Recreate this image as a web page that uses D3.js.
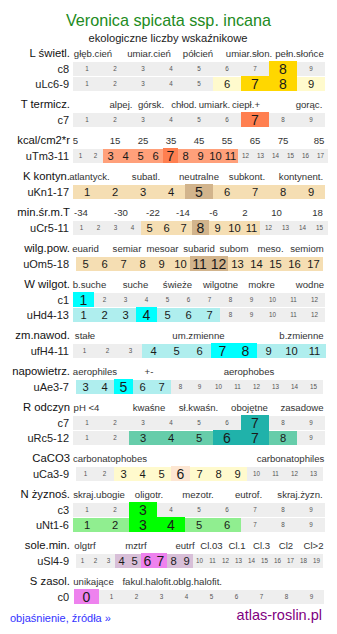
<!DOCTYPE html>
<html><head><meta charset="utf-8">
<script src="https://cdn.jsdelivr.net/npm/d3@7"></script>
<style>
body{margin:0;background:#fff}
svg{display:block}
text{font-family:"Liberation Sans",Arial,sans-serif}
</style>
</head><body><svg id="c" width="337" height="634"></svg>
<script>
// ---------- data ----------
const title = "Veronica spicata ssp. incana";
const subtitle = "ekologiczne liczby wskaźnikowe";
const footerLink = "objaśnienie, źródła »";
const footerSite = "atlas-roslin.pl";

const sectionNames = ["L świetl.","T termicz.","kcal/cm2*r","K kontyn.","min.śr.m.T","wilg.pow.","W wilgot.","zm.nawod.","napowietrz.","R odczyn","CaCO3","N żyznoś.","sole.min.","S zasol."];
const lightScale = ["głęb.cień","umiar.cień","półcień","umiar.słon.","pełn.słońce"];
const tempScale = ["alpej.","górsk.","chłod.","umiark.","ciepł.+","gorąc."];
const kcalScale = ["5","15","25","35","45","55","65","75","85"];
const contScale = ["atlantyck.","subatl.","neutralne","subkont.","kontynent."];
const minTScale = ["-34","-30","-22","-14","-6","2","10","18"];
const airHumScale = ["euarid","semiar","mesoar","subarid","subom","meso.","semiom"];
const moistScale = ["b.suche","suche","świeże","wilgotne","mokre","wodne"];
const waterVarScale = ["stałe","um.zmienne","b.zmienne"];
const aerationScale = ["aerophiles","+-","aerophobes"];
const reactionScale = ["pH <4","kwaśne","sł.kwaśn.","obojętne","zasadowe"];
const carbScale = ["carbonatophobes","carbonatophiles"];
const nutrScale = ["skraj.ubogie","oligotr.","mezotr.","eutrof.","skraj.żyzn."];
const saltMinScale = ["olgtrf","mztrf","eutrf","Cl.03","Cl.1","Cl.3","Cl2","Cl>2"];
const salinityScale = ["unikające","fakul.halofit.","oblg.halofit."];
const sectionScales = [lightScale,tempScale,kcalScale,contScale,minTScale,airHumScale,moistScale,waterVarScale,aerationScale,reactionScale,carbScale,nutrScale,saltMinScale,salinityScale];

const rowLabels  = ["c8","uLc6-9","c7","uTm3-11","uKn1-17","uCr5-11","uOm5-18","c1","uHd4-13","ufH4-11","uAe3-7","c7","uRc5-12","uCa3-9","c3","uNt1-6","uSl4-9","c0"];
const rowSection = [0,0,1,2,3,4,5,6,6,7,8,9,9,10,11,11,12,13];
const rowFirst   = [1,1,1,1,1,1,5,1,1,1,3,1,1,1,1,1,1,0];
const rowLast    = [9,9,9,17,9,15,17,12,12,11,15,9,9,13,9,9,19,9];
const rangeLo    = [8,6,7,3,1,5,5,1,1,4,3,7,3,3,3,1,4,0];
const rangeHi    = [8,9,7,11,9,11,17,1,7,11,7,7,8,9,3,6,9,0];
const peakLo     = [8,7,7,7,5,8,11,1,4,7,5,7,6,6,3,3,6,0];
const peakHi     = [8,8,7,7,5,8,12,1,4,8,5,7,7,6,3,4,7,0];

// ---------- layout / style ----------
const scaleLabelX = [
  [93,149,198,249,299.5],
  [121,151,184,214.5,246,309],
  [75.5,115,143,171,199,227,255,283,319],
  [89.5,146,199,247,301],
  [81,121,153,183,213.5,245,276.5,317.5],
  [85.5,127,162.5,199,234,270.5,307],
  [89.5,135.5,177.5,220.5,261.5,310],
  [85,198.5,301.5],
  [95,149,249],
  [86.5,149,198.5,249.5,302],
  [110,290.5],
  [99,149,198,248.5,300],
  [85,136,185,211.5,237,261.5,286,313.5],
  [93.5,148,197.5]
];
const palettes = [
  ["#fffacd","#ffd700"],["#ffa07a","#ff7f50"],["#ffa07a","#ff7f50"],
  ["#f5deb3","#d2b48c"],["#f5deb3","#d2b48c"],["#f5deb3","#d2b48c"],
  ["#afeeee","#00ffff"],["#afeeee","#00ffff"],["#afeeee","#00ffff"],
  ["#66cdaa","#20b2aa"],["#fffacd","#fde6d2"],["#90ee90","#00ff00"],
  ["#d8bfd8","#ee82ee"],["#d8bfd8","#ee82ee"]
];
const GRAY = "#eeeeee";
const X0 = 73, FULLW = 252, ROWH = 14;

const svg = d3.select("#c");

svg.append("text").attr("x",168.5).attr("y",26).attr("text-anchor","middle")
  .attr("font-size",16.2).attr("fill","#228b22").text(title);
svg.append("text").attr("x",168).attr("y",42).attr("text-anchor","middle")
  .attr("font-size",11.2).attr("fill","#222").text(subtitle);

// row tops
const tops = [];
let y = 62;
rowLabels.forEach((l,i)=>{
  if(i>0) y += (rowSection[i]===rowSection[i-1]) ? 15 : 36;
  tops.push(y);
});

// section headers
sectionNames.forEach((name,s)=>{
  const r = rowSection.indexOf(s);
  const base = tops[r]-5;
  svg.append("text").attr("x",70).attr("y",base).attr("text-anchor","end")
    .attr("font-size",11.3).attr("fill","#111").text(name);
  svg.append("g").selectAll("text").data(sectionScales[s]).join("text")
    .attr("x",(d,i)=>scaleLabelX[s][i]).attr("y",base-0.5)
    .attr("text-anchor","middle").attr("font-size",9.6).attr("fill","#333")
    .text(d=>d);
});

// rows
rowLabels.forEach((lab,i)=>{
  const vals = d3.range(rowFirst[i], rowLast[i]+1);
  const n = vals.length;
  const w = Math.round(FULLW/n);
  const x0 = X0 + Math.max(0, Math.round((FULLW - n*w)/2));
  const x = d3.scaleBand().domain(vals).range([x0, x0+n*w]).paddingInner(0).paddingOuter(0);
  const top = tops[i];
  const pal = palettes[rowSection[i]];
  const kind = v => (v>=peakLo[i] && v<=peakHi[i]) ? 2 : (v>=rangeLo[i] && v<=rangeHi[i]) ? 1 : 0;

  svg.append("text").attr("x",69).attr("y",top+11).attr("text-anchor","end")
    .attr("font-size",11).attr("fill","#222").text(lab);

  const g = svg.append("g");
  g.selectAll("rect.bg").data(vals.filter(v=>kind(v)===0)).join("rect")
    .attr("x",v=>x(v)).attr("y",top).attr("width",x.bandwidth()).attr("height",ROWH)
    .attr("fill",GRAY);
  g.selectAll("rect.col").data(vals.filter(v=>kind(v)>0)).join("rect")
    .attr("x",v=>x(v)).attr("y",v=>kind(v)===2?top-1:top)
    .attr("width",x.bandwidth()).attr("height",v=>kind(v)===2?ROWH+1:ROWH)
    .attr("fill",v=>kind(v)===2?pal[1]:pal[0]);
  const fs = [6.3,11.2,14];
  g.selectAll("text").data(vals).join("text")
    .attr("x",v=>x(v)+x.bandwidth()/2)
    .attr("y",v=>top+7+fs[kind(v)]*0.36)
    .attr("text-anchor","middle")
    .attr("font-size",v=>fs[kind(v)])
    .attr("fill",v=>kind(v)===0?"#555":"#1a1a1a")
    .text(v=>v);
});

svg.append("text").attr("x",10).attr("y",621.5).attr("font-size",11)
  .attr("fill","#3333ff").text(footerLink);
svg.append("text").attr("x",322).attr("y",620).attr("text-anchor","end")
  .attr("font-size",14.5).attr("fill","#800080").text(footerSite);
</script>
</body></html>
